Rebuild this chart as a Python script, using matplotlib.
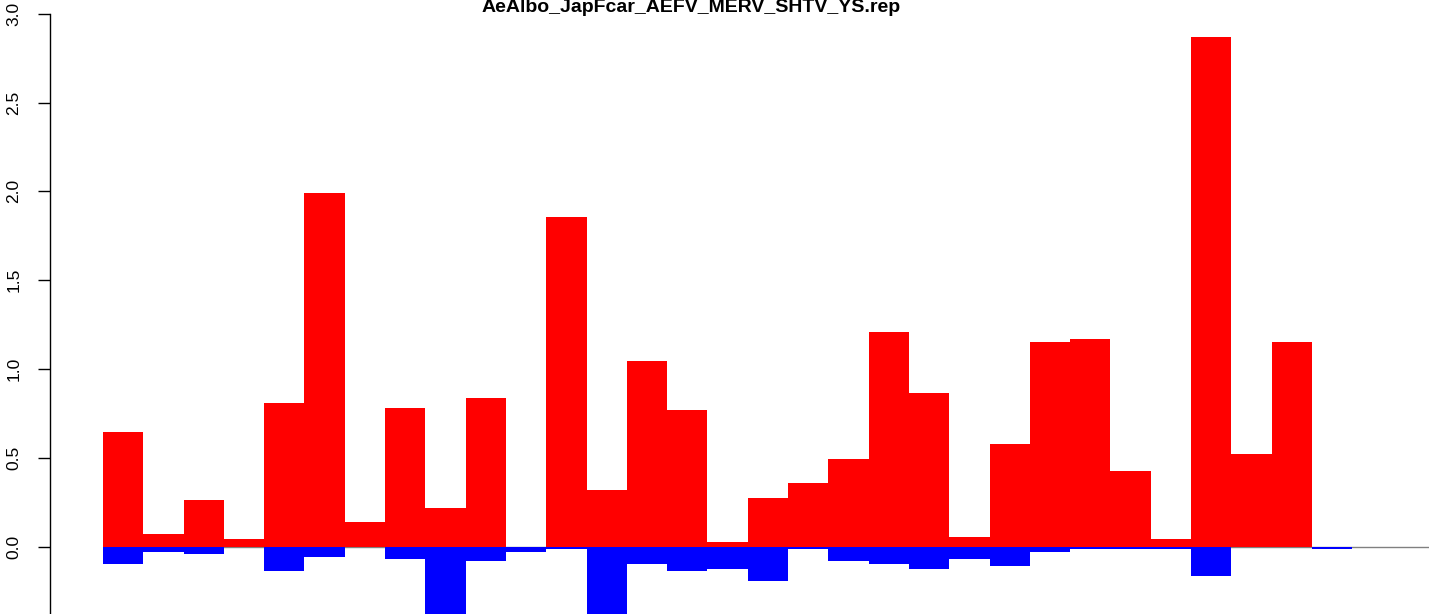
import matplotlib
matplotlib.use("Agg")
import matplotlib.pyplot as plt
import numpy as np

plt.rcParams['font.family'] = ['Liberation Sans', 'DejaVu Sans']

title = "AeAlbo_JapFcar_AEFV_MERV_SHTV_YS.rep"

pos_values = [0.647, 0.073, 0.264, 0.045, 0.81, 1.99, 0.14, 0.78, 0.22, 0.838,
              0.0, 1.856, 0.32, 1.046, 0.77, 0.028, 0.276, 0.36, 0.495, 1.209,
              0.866, 0.056, 0.58, 1.153, 1.17, 0.427, 0.045, 2.868, 0.523, 1.153,
              0.0]
neg_values = [-0.096, -0.028, -0.04, 0.0, -0.135, -0.056, 0.0, -0.067, -0.42, -0.079,
              -0.028, -0.011, -0.42, -0.096, -0.135, -0.124, -0.19, -0.011, -0.079, -0.096,
              -0.124, -0.067, -0.107, -0.028, -0.011, -0.011, -0.011, -0.163, 0.0, 0.0,
              -0.011]
y_ticks = [0.0, 0.5, 1.0, 1.5, 2.0, 2.5, 3.0]
y_tick_labels = ["0.0", "0.5", "1.0", "1.5", "2.0", "2.5", "3.0"]

W, H = 1429, 614
fig = plt.figure(figsize=(W / 100, H / 100), dpi=100)
ax = fig.add_axes([50 / W, 0, 1 - 50 / W, 1])

x = np.arange(len(pos_values))
px_per_unit = 40.3
x0_px = 103
ax.set_xlim(-(x0_px - 50) / px_per_unit, (W - x0_px) / px_per_unit)
zero_px = 547
py_per_unit = 177.8
ax.set_ylim(-(H - zero_px) / py_per_unit, zero_px / py_per_unit)

ax.hlines(0, 0, 100, colors='#808080', linewidth=1.0, zorder=1)
ax.bar(x, pos_values, width=1.0, align='edge', color='#ff0000', linewidth=0, zorder=2)
ax.bar(x, neg_values, width=1.0, align='edge', color='#0000ff', linewidth=0, zorder=3)

for s in ['top', 'right', 'bottom']:
    ax.spines[s].set_visible(False)
ax.spines['left'].set_bounds(-0.5, 3.0)
ax.spines['left'].set_linewidth(1.0)
ax.set_xticks([])
ax.set_yticks(y_ticks)
ax.set_yticklabels(y_tick_labels, rotation=90, va='center', fontsize=12.5)
ax.tick_params(axis='y', length=8.6, width=1.0, pad=12)

fig.text(691 / W, (H - 12) / H, title, ha='center', va='baseline',
         fontsize=14.0, fontweight='bold')

fig.savefig("out.png", dpi=100)
